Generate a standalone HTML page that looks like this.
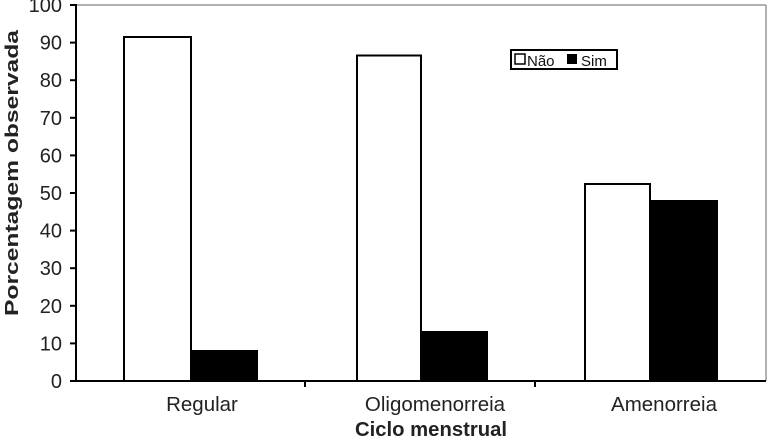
<!DOCTYPE html>
<html><head><style>body{margin:0;background:#fff}</style></head><body>
<svg width="768" height="438" xmlns="http://www.w3.org/2000/svg" font-family="Liberation Sans, sans-serif">
<rect width="768" height="438" fill="#fff"/>
<line x1="76" y1="5" x2="766" y2="5" stroke="#999" stroke-width="1.5"/>
<line x1="766" y1="5" x2="766" y2="381" stroke="#999" stroke-width="1.5"/>
<g fill="#fff" stroke="#000" stroke-width="2">
<rect x="124" y="37" width="67" height="344"/>
<rect x="357" y="55.5" width="64" height="325.5"/>
<rect x="585" y="184" width="65" height="197"/>
</g>
<g fill="#000" stroke="#000" stroke-width="2">
<rect x="191" y="351" width="66" height="30"/>
<rect x="421" y="332" width="66" height="49"/>
<rect x="650" y="201" width="67" height="180"/>
</g>
<g stroke="#000" stroke-width="2">
<line x1="76" y1="4" x2="76" y2="382"/>
<line x1="75" y1="381" x2="766" y2="381"/>
<line x1="70" y1="5" x2="76" y2="5"/><line x1="70" y1="42.6" x2="76" y2="42.6"/><line x1="70" y1="80.2" x2="76" y2="80.2"/><line x1="70" y1="117.8" x2="76" y2="117.8"/><line x1="70" y1="155.4" x2="76" y2="155.4"/><line x1="70" y1="193" x2="76" y2="193"/><line x1="70" y1="230.6" x2="76" y2="230.6"/><line x1="70" y1="268.2" x2="76" y2="268.2"/><line x1="70" y1="305.8" x2="76" y2="305.8"/><line x1="70" y1="343.4" x2="76" y2="343.4"/><line x1="70" y1="381" x2="76" y2="381"/>
<line x1="305" y1="381" x2="305" y2="387"/><line x1="535" y1="381" x2="535" y2="387"/>
</g>
<g font-size="20" fill="#222" text-anchor="end">
<text x="62" y="12">100</text><text x="62" y="49.6">90</text><text x="62" y="87.2">80</text><text x="62" y="124.8">70</text><text x="62" y="162.4">60</text><text x="62" y="200">50</text><text x="62" y="237.6">40</text><text x="62" y="275.2">30</text><text x="62" y="312.8">20</text><text x="62" y="350.4">10</text><text x="62" y="388">0</text>
</g>
<g font-size="20.5" fill="#222" text-anchor="middle">
<text x="202" y="411">Regular</text><text x="435" y="411">Oligomenorreia</text><text x="664" y="411">Amenorreia</text>
</g>
<text x="431" y="436" font-size="20" font-weight="bold" fill="#222" text-anchor="middle" textLength="152" lengthAdjust="spacingAndGlyphs">Ciclo menstrual</text>
<text transform="translate(18,173) rotate(-90)" font-size="18" font-weight="bold" fill="#222" text-anchor="middle" textLength="286" lengthAdjust="spacingAndGlyphs">Porcentagem observada</text>
<rect x="511" y="50" width="106" height="19" fill="#fff" stroke="#000" stroke-width="2"/>
<rect x="515" y="54" width="10" height="10" fill="#fff" stroke="#000" stroke-width="1.5"/>
<text x="527" y="66" font-size="15" fill="#111">Não</text>
<rect x="567" y="54" width="10" height="10" fill="#000"/>
<text x="581" y="66" font-size="15" fill="#111">Sim</text>
</svg>
</body></html>
